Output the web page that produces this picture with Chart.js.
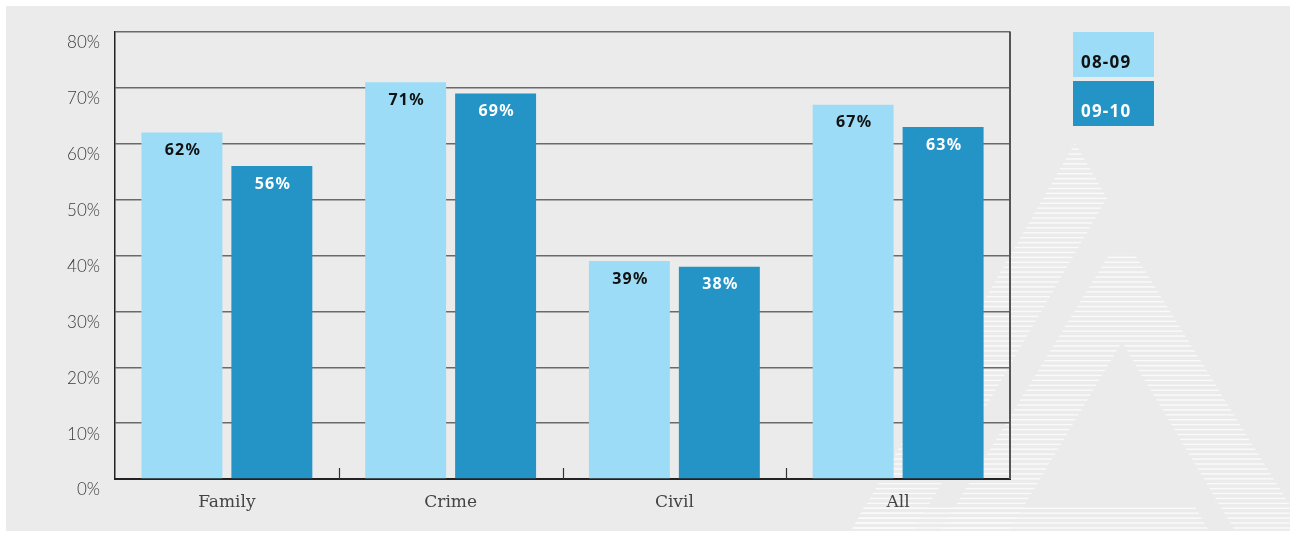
<!DOCTYPE html>
<html>
<head>
<meta charset="utf-8">
<title>Success rate by jurisdiction</title>
<script src="https://cdn.jsdelivr.net/npm/chart.js@4.4.1/dist/chart.umd.min.js"></script>
<style>
  html, body { margin: 0; padding: 0; background: #fff; }
  #wrap { width: 1292px; height: 533px; }
  canvas { display: block; }
</style>
</head>
<body>
<div id="wrap"><canvas id="chart" width="1292" height="533"></canvas></div>
<script>
// --- data ---
const categories = ['Family', 'Crime', 'Civil', 'All'];
const series0809 = [62, 71, 39, 67];
const series0910 = [56, 69, 38, 63];
const seriesNames = ['08-09', '09-10'];
const yTickValues = [0, 10, 20, 30, 40, 50, 60, 70, 80];

// --- colours ---
const LIGHT = '#9cdcf7';
const DARK = '#2494c7';
const PANEL = '#ebebeb';

// striped "A" mark in the lower right of the panel
const logoShapes = [
    [[1075, 143], [1107, 198], [914, 531], [851, 531]],
    [[1110, 253], [1134, 253], [1306, 531], [1235, 531], [1122, 342], [1009, 531], [940, 531]],
    [[864, 507], [1195, 507], [1209, 531], [851, 531]]
];

const panelBackground = {
    id: 'panelBackground',
    beforeDraw(chart) {
        const ctx = chart.ctx;
        ctx.save();
        ctx.fillStyle = '#fff';
        ctx.fillRect(0, 0, chart.width, chart.height);
        ctx.fillStyle = PANEL;
        ctx.fillRect(6, 6, chart.width - 8, chart.height - 8);

        // clip to the panel, then stripe each shape
        ctx.beginPath();
        ctx.rect(6, 6, chart.width - 8, chart.height - 8);
        ctx.clip();
        ctx.fillStyle = '#fafafa';
        logoShapes.forEach(pts => {
            ctx.save();
            ctx.beginPath();
            pts.forEach((p, i) => i ? ctx.lineTo(p[0], p[1]) : ctx.moveTo(p[0], p[1]));
            ctx.closePath();
            ctx.clip();
            for (let y = 143.5; y < chart.height; y += 4.92) {
                ctx.fillRect(840, y, 470, 1.4);
            }
            ctx.restore();
        });
        ctx.restore();
    }
};

const frameAndLabels = {
    id: 'frameAndLabels',
    afterDatasetsDraw(chart) {
        const ctx = chart.ctx;
        const area = chart.chartArea;
        const x = chart.scales.x;
        ctx.save();

        // right border of the plot
        ctx.strokeStyle = '#555';
        ctx.lineWidth = 2;
        ctx.beginPath();
        ctx.moveTo(area.right, area.top - 0.5);
        ctx.lineTo(area.right, area.bottom);
        ctx.stroke();

        // short inward ticks between categories
        ctx.strokeStyle = '#333';
        ctx.lineWidth = 1.2;
        for (let i = 1; i < categories.length; i++) {
            const px = Math.round((x.getPixelForValue(i - 1) + x.getPixelForValue(i)) / 2) + 0.5;
            ctx.beginPath();
            ctx.moveTo(px, area.bottom);
            ctx.lineTo(px, area.bottom - 11);
            ctx.stroke();
        }

        // value labels inside the top of each bar
        ctx.font = 'bold 16px "Noto Sans", sans-serif';
        ctx.letterSpacing = '1.2px';
        ctx.textAlign = 'center';
        ctx.textBaseline = 'middle';
        chart.data.datasets.forEach((ds, di) => {
            ctx.fillStyle = di === 0 ? '#111' : '#fff';
            chart.getDatasetMeta(di).data.forEach((bar, j) => {
                ctx.fillText(ds.data[j] + '%', bar.x + 1, bar.y + 18);
            });
        });

        // legend boxes
        const lx = area.right + 63;
        ctx.textAlign = 'left';
        ctx.font = 'bold 17px "Noto Sans", sans-serif';
        ctx.letterSpacing = '1.2px';
        chart.data.datasets.forEach((ds, di) => {
            const ly = area.top + di * 49;
            ctx.fillStyle = ds.backgroundColor;
            ctx.fillRect(lx, ly, 81, 45);
            ctx.fillStyle = di === 0 ? '#111' : '#fff';
            ctx.fillText(ds.label, lx + 8, ly + 31);
        });
        ctx.restore();
    }
};

new Chart(document.getElementById('chart'), {
    type: 'bar',
    data: {
        labels: categories,
        datasets: [
            { label: seriesNames[0], data: series0809, backgroundColor: LIGHT },
            { label: seriesNames[1], data: series0910, backgroundColor: DARK }
        ]
    },
    options: {
        responsive: false,
        animation: false,
        devicePixelRatio: 1,
        layout: { padding: { left: 0, top: 32, right: 282, bottom: 0 } },
        categoryPercentage: 0.804,
        barPercentage: 0.9,
        plugins: {
            legend: { display: false },
            tooltip: { enabled: false }
        },
        scales: {
            x: {
                grid: { display: false },
                border: { display: true, color: '#222', width: 2 },
                ticks: {
                    padding: 5,
                    color: '#444',
                    font: { family: '"DejaVu Serif", serif', size: 17 }
                },
                afterFit(scale) { scale.height = 54; }
            },
            y: {
                min: 0,
                max: 80,
                afterBuildTicks(scale) {
                    scale.ticks = yTickValues.map(v => ({ value: v }));
                },
                grid: { color: '#6a6a6a', lineWidth: 1.5, drawTicks: false },
                border: { display: true, color: '#222', width: 1.5 },
                ticks: {
                    padding: 15,
                    labelOffset: 11,
                    color: '#3a3a3a',
                    font: { family: 'Lato, sans-serif', size: 17, weight: '300' },
                    callback: v => v + '%'
                },
                afterFit(scale) { scale.width = 115; }
            }
        }
    },
    plugins: [panelBackground, frameAndLabels]
});
</script>
</body>
</html>
